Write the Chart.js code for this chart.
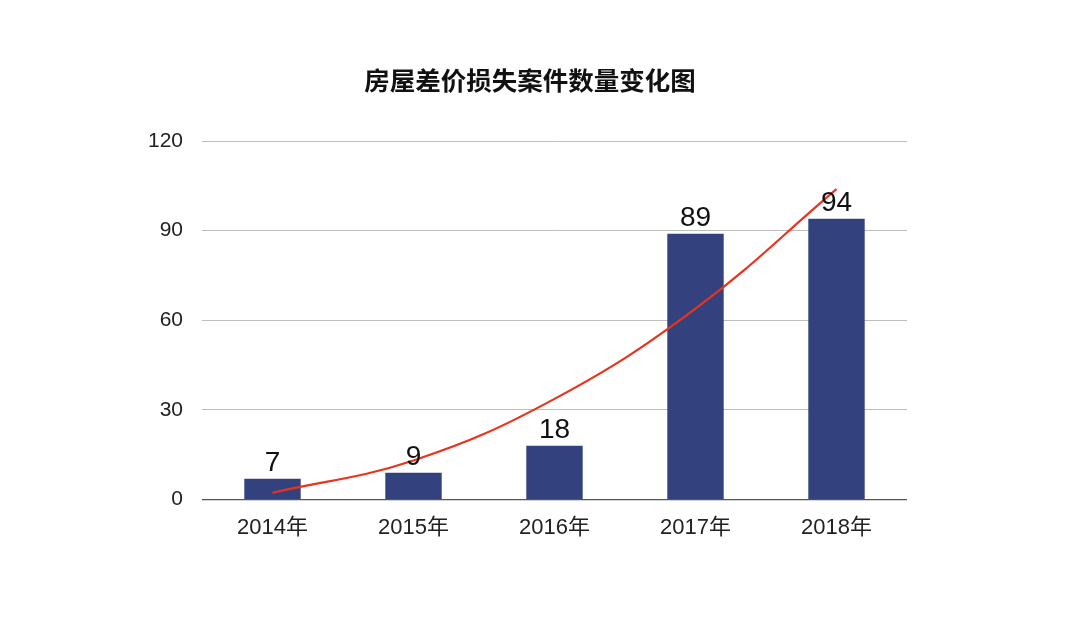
<!DOCTYPE html>
<html>
<head>
<meta charset="utf-8">
<script src="https://cdn.jsdelivr.net/npm/chart.js@4/dist/chart.umd.min.js"></script>
<style>
html,body{margin:0;padding:0;background:#fff;}
#wrap{width:1080px;height:618px;}
</style>
</head>
<body>
<div id="wrap"><canvas id="c" width="1080" height="618"></canvas></div>
<script>
const categories = ['2014年','2015年','2016年','2017年','2018年'];
const caseCounts = [7, 9, 18, 89, 94];
const trendValues = [2.3, 13.1, 33.7, 63.9, 103.9];
const yTicks = [0, 30, 60, 90, 120];
const chartTitle = '房屋差价损失案件数量变化图';

const FONT = '"Liberation Sans", Arial, "Noto Sans CJK SC", sans-serif';

const valueLabels = {
  id: 'valueLabels',
  afterDatasetsDraw(chart) {
    const meta = chart.getDatasetMeta(1);
    const ctx = chart.ctx;
    ctx.save();
    ctx.font = '28px ' + FONT;
    ctx.fillStyle = '#111';
    ctx.textAlign = 'center';
    ctx.textBaseline = 'alphabetic';
    meta.data.forEach((bar, i) => {
      ctx.fillText(String(caseCounts[i]), bar.x, bar.y - 8);
    });
    ctx.restore();
  }
};

const titleText = {
  id: 'titleText',
  afterDraw(chart) {
    const ctx = chart.ctx;
    ctx.save();
    ctx.font = 'bold 25.5px ' + FONT;
    ctx.fillStyle = '#111';
    ctx.textAlign = 'center';
    ctx.textBaseline = 'middle';
    ctx.fillText(chartTitle, 530, 83);
    ctx.restore();
  }
};

new Chart(document.getElementById('c'), {
  data: {
    labels: categories,
    datasets: [
      {
        type: 'line',
        label: '趋势',
        data: trendValues,
        borderColor: '#e8341c',
        borderWidth: 2.2,
        pointRadius: 0,
        tension: 0.4,
        fill: false,
        order: 0
      },
      {
        type: 'bar',
        label: '案件数量',
        data: caseCounts,
        backgroundColor: '#33427f',
        categoryPercentage: 1,
        barPercentage: 0.4,
        order: 1
      }
    ]
  },
  options: {
    responsive: false,
    animation: false,
    devicePixelRatio: 1,
    layout: { padding: { left: 100, right: 173, top: 141, bottom: 62 } },
    plugins: {
      legend: { display: false },
      tooltip: { enabled: false },
      title: { display: false }
    },
    scales: {
      x: {
        grid: { display: false, drawTicks: false },
        border: { display: false },
        ticks: { color: '#222', font: { family: FONT, size: 22 }, padding: 15 }
      },
      y: {
        min: 0,
        max: 120,
        afterFit(scale) { scale.width = 102; },
        afterBuildTicks(scale) { scale.ticks = yTicks.map(v => ({ value: v })); },
        grid: {
          drawTicks: false,
          color: ctx => (ctx.tick && ctx.tick.value === 0) ? '#555' : '#bdbdbd',
          lineWidth: ctx => (ctx.tick && ctx.tick.value === 0) ? 1.2 : 1
        },
        border: { display: false },
        ticks: { color: '#222', font: { family: FONT, size: 21 }, padding: 19 }
      }
    }
  },
  plugins: [valueLabels, titleText]
});
</script>
</body>
</html>
